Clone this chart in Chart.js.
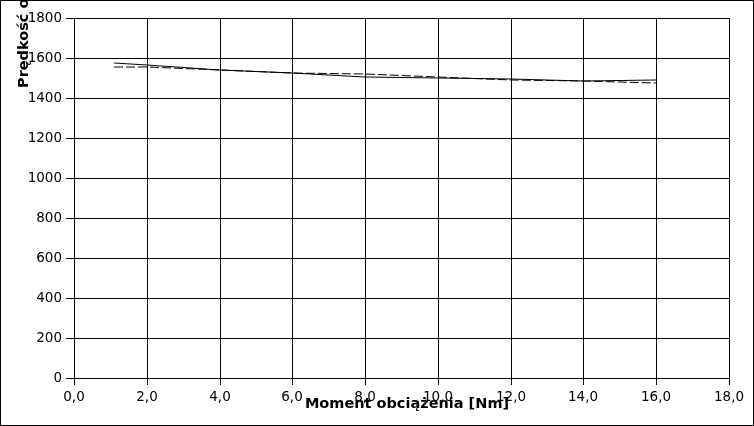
<!DOCTYPE html>
<html>
<head>
<meta charset="utf-8">
<script src="https://cdn.jsdelivr.net/npm/chart.js@4"></script>
<style>
  html, body { margin: 0; padding: 0; background: #fff; }
  #wrap { width: 754px; height: 426px; position: relative; }
</style>
</head>
<body>
<div id="wrap"><canvas id="chart" width="754" height="426"></canvas></div>
<script>
// Data
const torque = [1.1, 2.0, 4.0, 6.0, 8.0, 10.0, 12.0, 14.0, 16.0];
const speedSolid = [1573, 1565, 1540, 1523, 1507, 1498, 1493, 1487, 1490];
const speedDashed = [1553, 1553, 1540, 1525, 1518, 1507, 1492, 1485, 1473];
const xTitle = 'Moment obciążenia [Nm]';
const yTitle = 'Prędkość obrotowa [obr/min]';

const FONT = 'DejaVu Sans';

const toPoints = (xs, ys) => xs.map((x, i) => ({ x: x, y: ys[i] }));

// Axis titles and the outer frame, placed as in the reference
const decorations = {
    id: 'decorations',
    afterDraw(chart) {
        const ctx = chart.ctx;
        ctx.save();
        ctx.fillStyle = '#000';
        ctx.font = 'bold 14.5px "' + FONT + '"';
        ctx.textAlign = 'center';
        ctx.textBaseline = 'alphabetic';
        ctx.fillText(xTitle, 407, 408);

        ctx.translate(28, 88);
        ctx.rotate(-Math.PI / 2);
        ctx.textAlign = 'left';
        ctx.fillText(yTitle, 0, 0);
        ctx.restore();

        ctx.save();
        ctx.strokeStyle = '#000';
        ctx.lineWidth = 1;
        ctx.strokeRect(0.5, 0.5, chart.width - 1, chart.height - 1);
        ctx.restore();
    }
};

const ctx = document.getElementById('chart').getContext('2d');
const speedChart = new Chart(ctx, {
    type: 'scatter',
    data: {
        datasets: [{
            data: toPoints(torque, speedSolid),
            showLine: true,
            borderColor: '#000',
            borderWidth: 1,
            pointRadius: 0,
            tension: 0
        }, {
            data: toPoints(torque, speedDashed),
            showLine: true,
            borderColor: '#000',
            borderWidth: 1,
            borderDash: [9, 3],
            pointRadius: 0,
            tension: 0
        }]
    },
    options: {
        responsive: false,
        animation: false,
        layout: { padding: { left: 0, right: 25, top: 18, bottom: 0 } },
        plugins: {
            legend: { display: false },
            tooltip: { enabled: false }
        },
        scales: {
            x: {
                type: 'linear',
                min: 0,
                max: 18,
                alignToPixels: true,
                afterFit: (scale) => { scale.height = 48; },
                border: { color: '#000', width: 1 },
                grid: { color: '#000', lineWidth: 1, tickLength: 7 },
                ticks: {
                    stepSize: 2,
                    padding: 4,
                    color: '#000',
                    font: { family: FONT, size: 13.5 },
                    maxRotation: 0,
                    callback: (v) => v.toFixed(1).replace('.', ',')
                }
            },
            y: {
                min: 0,
                max: 1800,
                alignToPixels: true,
                afterFit: (scale) => { scale.width = 74; },
                border: { color: '#000', width: 1 },
                grid: { color: '#000', lineWidth: 1, tickLength: 8 },
                ticks: {
                    stepSize: 200,
                    padding: 4,
                    color: '#000',
                    font: { family: FONT, size: 13.5 },
                    callback: (v) => String(v)
                }
            }
        }
    },
    plugins: [decorations]
});
</script>
</body>
</html>
